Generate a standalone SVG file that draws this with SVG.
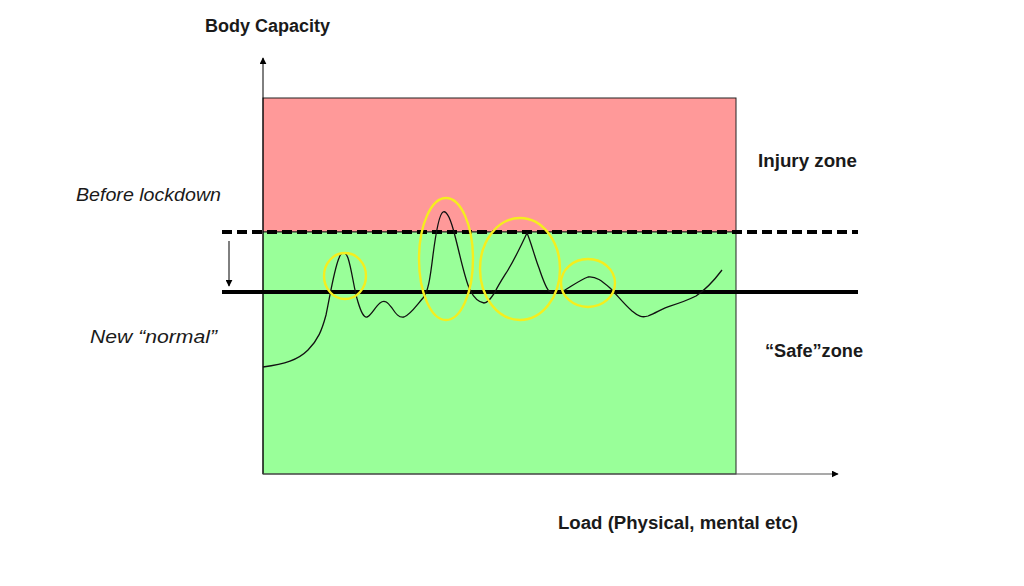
<svg xmlns="http://www.w3.org/2000/svg" width="1024" height="586" viewBox="0 0 1024 586">
<defs>
<style>
.lbl{font-family:"Liberation Sans",Arial,sans-serif;font-size:18px;fill:#1a1a1a}
.b{font-weight:bold}
.i{font-style:italic}
.ell{fill:none;stroke:#f5ee1e;stroke-width:2.4}
</style>
<marker id="ah" viewBox="0 0 10 10" refX="9" refY="5" markerWidth="7" markerHeight="7" markerUnits="userSpaceOnUse" orient="auto">
<path d="M0,0 L10,5 L0,10 Z" fill="#000"/>
</marker>
</defs>
<rect width="1024" height="586" fill="#fff"/>
<g id="zones">
<rect id="injury-zone" x="263" y="98" width="473" height="134" fill="#ff9999" stroke="#222" stroke-width="1"/>
<rect id="safe-zone" x="263" y="232" width="473" height="242" fill="#99ff99" stroke="#222" stroke-width="1"/>
</g>
<g id="connectors">
<line x1="263" y1="474" x2="263" y2="58" stroke="#000" stroke-width="1" marker-end="url(#ah)"/>
<line x1="263" y1="474" x2="838" y2="474" stroke="#555" stroke-width="1.2" marker-end="url(#ah)"/>
<line x1="222" y1="232" x2="858" y2="232" stroke="#000" stroke-width="4" stroke-dasharray="10,5"/>
<line x1="222" y1="292" x2="858" y2="292" stroke="#000" stroke-width="4"/>
<line x1="229" y1="241" x2="229" y2="286" stroke="#000" stroke-width="1" marker-end="url(#ah)"/>
</g>
<g id="load-curve">
<path d="M263,367 C285,364 298,360 308,350 C318,340 322,330 326,315 C330,296 334,270 339,258 C341,252 345,250 348,258 C352,270 354,290 358,302 C361,312 364,318 367,317 C371,316 375,307 380,303 C385,299 388,303 392,308 C396,314 399,318 404,317 C410,315 416,306 423,298 C428,292 430,280 433,255 C436,232 439,214 443,212 C447,210 451,220 455,236 C460,255 465,280 470,290 C474,298 478,302 484,303 C488,303 491,298 495,292 C499,284 503,278 508,270 C514,260 520,248 527,233 C531,242 535,258 539,268 C543,280 546,288 549,291 C553,294 560,292 565,290 C572,286 580,280 588,277 C596,276 602,281 610,288 C617,295 624,304 632,311 C638,316 642,318 648,316 C656,313 663,308 670,306 C680,303 688,300 696,296 C705,290 713,282 722,270" fill="none" stroke="#111" stroke-width="1.3"/>
</g>
<g id="highlights">
<ellipse id="h1" class="ell" cx="345" cy="276" rx="21" ry="23"/>
<ellipse id="h2" class="ell" cx="446" cy="259" rx="27" ry="61"/>
<ellipse id="h3" class="ell" cx="520" cy="269" rx="40" ry="51"/>
<ellipse id="h4" class="ell" cx="588" cy="283" rx="27" ry="24"/>
</g>
<g id="labels">
<text id="t-body" class="lbl b" x="205" y="32" textLength="125" lengthAdjust="spacingAndGlyphs">Body Capacity</text>
<text id="t-injury" class="lbl b" x="758" y="167" textLength="99" lengthAdjust="spacingAndGlyphs">Injury zone</text>
<text id="t-before" class="lbl i" x="76" y="201" textLength="145" lengthAdjust="spacingAndGlyphs">Before lockdown</text>
<text id="t-new" class="lbl i" x="90" y="343" textLength="127" lengthAdjust="spacingAndGlyphs">New “normal”</text>
<text id="t-safe" class="lbl b" x="765" y="357" textLength="98" lengthAdjust="spacingAndGlyphs">“Safe”zone</text>
<text id="t-load" class="lbl b" x="558" y="529" textLength="240" lengthAdjust="spacingAndGlyphs">Load (Physical, mental etc)</text>
</g>
</svg>
